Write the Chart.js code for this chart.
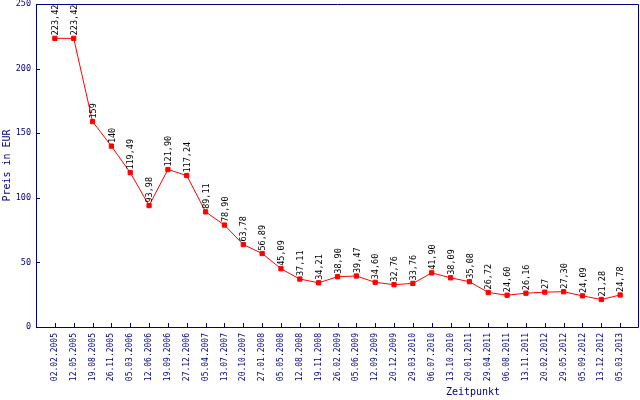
<!DOCTYPE html>
<html>
<head>
<meta charset="utf-8">
<script src="https://cdn.jsdelivr.net/npm/chart.js@4/dist/chart.umd.min.js"></script>
<style>
  html, body { margin: 0; padding: 0; background: #fff; }
  #wrap { width: 640px; height: 400px; }
</style>
</head>
<body>
<div id="wrap"><canvas id="preisChart"></canvas></div>
<script>
// Zeitpunkte und Preise
let zeitpunkte = ['02.02.2005', '12.05.2005', '19.08.2005', '26.11.2005', '05.03.2006', '12.06.2006', '19.09.2006',
  '27.12.2006', '05.04.2007', '13.07.2007', '20.10.2007', '27.01.2008', '05.05.2008', '12.08.2008', '19.11.2008',
  '26.02.2009', '05.06.2009', '12.09.2009', '20.12.2009', '29.03.2010', '06.07.2010', '13.10.2010', '20.01.2011',
  '29.04.2011', '06.08.2011', '13.11.2011', '20.02.2012', '29.05.2012', '05.09.2012', '13.12.2012', '05.03.2013'];
let preise = [223.42, 223.42, 159, 140, 119.49, 93.98, 121.90, 117.24, 89.11, 78.90, 63.78, 56.89, 45.09, 37.11,
  34.21, 38.90, 39.47, 34.60, 32.76, 33.76, 41.90, 38.09, 35.08, 26.72, 24.60, 26.16, 27, 27.30, 24.09, 21.28, 24.78];
let yTicks = [0, 50, 100, 150, 200, 250];

const blau = '#000080';
const mono = 'DejaVu Sans Mono';

function fmt(v) {
  return Number.isInteger(v) ? String(v) : v.toFixed(2).replace('.', ',');
}

// Rahmen, Striche nach innen, Wertebeschriftung
const extras = {
  id: 'extras',
  afterDatasetsDraw(chart) {
    const ctx = chart.ctx;
    const a = chart.chartArea;
    const xs = chart.scales.x, ys = chart.scales.y;
    ctx.save();
    ctx.strokeStyle = blau;
    ctx.lineWidth = 1;
    ctx.beginPath();
    ctx.rect(Math.round(a.left) + 0.5, Math.round(a.top) + 0.5,
      Math.round(a.right - a.left) - 1, Math.round(a.bottom - a.top));
    xs.ticks.forEach(t => {
      const px = Math.round(xs.getPixelForValue(t.value)) + 0.5;
      ctx.moveTo(px, a.bottom);
      ctx.lineTo(px, a.bottom - 4);
    });
    yTicks.forEach(v => {
      const py = Math.round(ys.getPixelForValue(v)) + 0.5;
      ctx.moveTo(a.left, py);
      ctx.lineTo(a.left + 4, py);
    });
    ctx.stroke();

    ctx.fillStyle = '#000';
    ctx.font = '8.5px "' + mono + '"';
    ctx.textAlign = 'left';
    ctx.textBaseline = 'middle';
    chart.getDatasetMeta(0).data.forEach((pt, i) => {
      ctx.save();
      ctx.translate(pt.x + 1, pt.y - 3);
      ctx.rotate(-Math.PI / 2);
      ctx.fillText(fmt(preise[i]), 0, 0);
      ctx.restore();
    });

    ctx.fillStyle = blau;
    ctx.font = '10px "' + mono + '"';
    ctx.textAlign = 'center';
    ctx.textBaseline = 'middle';
    ctx.fillText('Zeitpunkt', 473, 392);
    ctx.restore();
  }
};

new Chart(document.getElementById('preisChart'), {
  type: 'line',
  data: {
    datasets: [{
      label: 'Preis',
      data: preise.map((p, i) => ({ x: i, y: p })),
      borderColor: '#ff0000',
      backgroundColor: '#ff0000',
      borderWidth: 1,
      tension: 0,
      pointStyle: 'rect',
      pointRadius: 3,
      pointBorderWidth: 1,
      pointHoverRadius: 3
    }]
  },
  options: {
    responsive: true,
    maintainAspectRatio: false,
    animation: false,
    layout: { autoPadding: false, padding: { top: 4, right: 1, left: 0, bottom: 0 } },
    plugins: { legend: { display: false }, tooltip: { enabled: false } },
    scales: {
      x: {
        type: 'linear',
        min: -1,
        max: zeitpunkte.length,
        grid: { display: false, drawTicks: false },
        border: { display: false },
        afterBuildTicks: s => { s.ticks = zeitpunkte.map((z, i) => ({ value: i })); },
        afterFit: s => { s.height = 73; s.paddingLeft = 0; s.paddingRight = 0; },
        ticks: {
          stepSize: 1,
          autoSkip: false,
          minRotation: 90,
          maxRotation: 90,
          padding: 6,
          color: blau,
          font: { family: mono, size: 8 },
          callback: v => zeitpunkte[v] || ''
        }
      },
      y: {
        min: 0,
        max: 250,
        grid: { display: false, drawTicks: false },
        border: { display: false },
        afterFit: s => { s.width = 36; s.paddingTop = 0; s.paddingBottom = 0; },
        ticks: {
          stepSize: 50,
          padding: 5,
          color: blau,
          font: { family: mono, size: 8.5 }
        },
        title: {
          display: true,
          text: 'Preis in EUR',
          color: blau,
          font: { family: mono, size: 10 },
          padding: { top: 1, bottom: 0 }
        }
      }
    }
  },
  plugins: [extras]
});
</script>
</body>
</html>
